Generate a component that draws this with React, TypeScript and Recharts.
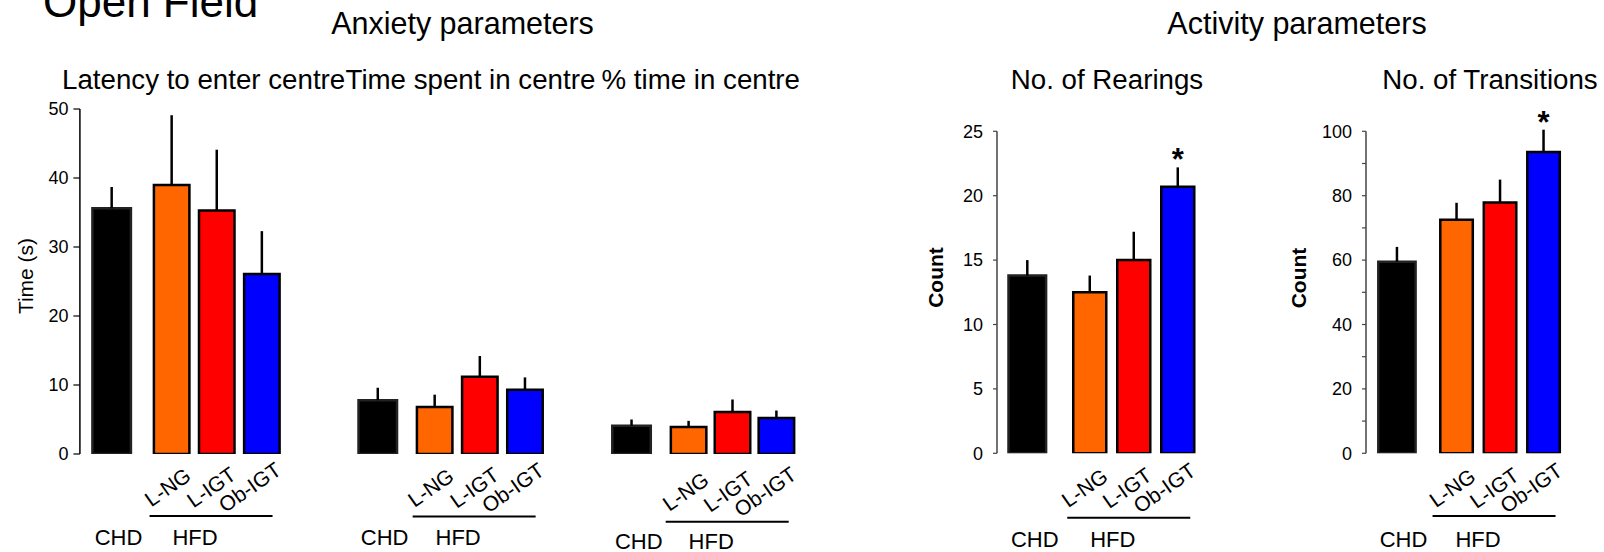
import React from 'react';
import { ComposedChart, Bar, XAxis, YAxis, ErrorBar, LabelList, Rectangle } from 'recharts';

// ---------- data ----------
const GROUPS = ['CHD', 'L-NG', 'L-IGT', 'Ob-IGT'];
const COLORS = ['#000000', '#FF6600', '#FF0000', '#0000FF'];

const latencyMean = [35.6, 39.0, 35.3, 26.1];
const latencyErr = [3.1, 10.1, 8.8, 6.2];
const timeCentreMean = [7.8, 6.8, 11.2, 9.3];
const timeCentreErr = [1.8, 1.8, 3.0, 1.8];
const pctCentreMean = [4.1, 3.9, 6.1, 5.2];
const pctCentreErr = [0.9, 0.9, 1.8, 1.1];
const rearingsMean = [13.8, 12.5, 15.0, 20.7];
const rearingsErr = [1.2, 1.3, 2.2, 1.5];
const rearingsSig = [false, false, false, true];
const transitionsMean = [59.5, 72.5, 77.9, 93.6];
const transitionsErr = [4.6, 5.3, 7.1, 6.9];
const transitionsSig = [false, false, false, true];

const timeTicks = [0, 10, 20, 30, 40, 50];
const rearingTicks = [0, 5, 10, 15, 20, 25];
const transitionTicks = [0, 10, 20, 30, 40, 50, 60, 70, 80, 90, 100];

// ---------- layout ----------
const FONT = '"Liberation Sans", Arial, Helvetica, sans-serif';
const H = 552;
const X_DOMAIN: [number, number] = [-0.7, 3.9];
const ROT = 35;
const ROT_FS = 21;

let measureCtx: CanvasRenderingContext2D | null = null;
function textWidth(s: string, size: number) {
  if (typeof document !== 'undefined') {
    if (!measureCtx) measureCtx = document.createElement('canvas').getContext('2d');
    if (measureCtx) {
      measureCtx.font = `${size}px "Liberation Sans", Arial, sans-serif`;
      return measureCtx.measureText(s).width;
    }
  }
  return s.length * size * 0.6;
}

type PanelProps = {
  means: number[];
  errs: number[];
  sig?: boolean[];
  chdCenter: number;
  unit: number;
  chdGap: number;
  barSize: number;
  chdExtra: number;
  yTop: number;
  yBottom: number;
  yDomain: [number, number];
  yTicks?: number[];
  yAxis?: 'time' | 'count' | 'countMinor' | null;
  yWidth?: number;
  yLabel?: string;
  yLabelX?: number;
  yLabelY?: number;
  lineDy: number;
  textDy: number;
  rotCy: number;
  rotDx: number;
};

function makeTick(p: PanelProps) {
  return (props: any) => {
    const { x, y, index } = props;
    if (index === 0) {
      return (
        <text x={x + 7} y={y + p.textDy} textAnchor="middle" fontSize={22} fill="#000">
          CHD
        </text>
      );
    }
    const label = GROUPS[index];
    const w = textWidth(label, ROT_FS);
    const h = ROT_FS * 0.716;
    const rad = (ROT * Math.PI) / 180;
    const ax = x + p.rotDx;
    const ay = y + p.rotCy - (w * Math.sin(rad) - h * Math.cos(rad)) / 2;
    return (
      <g>
        <text
          x={ax}
          y={ay}
          textAnchor="end"
          fontSize={ROT_FS}
          fill="#000"
          transform={`rotate(-${ROT} ${ax} ${ay})`}
        >
          {label}
        </text>
        {index === 2 ? (
          <g>
            <line x1={x - 67} x2={x + 56} y1={y + p.lineDy} y2={y + p.lineDy} stroke="#000" strokeWidth={2} />
            <text x={x - 21.5} y={y + p.textDy} textAnchor="middle" fontSize={22} fill="#000">
              HFD
            </text>
          </g>
        ) : null}
      </g>
    );
  };
}

function Panel(p: PanelProps) {
  const slots = [0, p.chdGap, p.chdGap + 1, p.chdGap + 2];
  const data = GROUPS.map((g, i) => ({
    x: slots[i],
    name: g,
    value: p.means[i],
    errRange: [0, p.errs[i]],
    star: p.sig && p.sig[i] ? '*' : '',
  }));
  const plotWidth = (X_DOMAIN[1] - X_DOMAIN[0]) * p.unit;
  const plotLeft = p.chdCenter + X_DOMAIN[0] * p.unit;
  const yw = p.yAxis ? p.yWidth || 80 : 0;
  const rightMargin = 34;
  const left = plotLeft - yw;
  const width = yw + plotWidth + rightMargin;
  const Tick = makeTick(p);

  const shape = (sp: any) => {
    const idx = sp.index ?? 0;
    const extra = idx === 0 ? p.chdExtra : 0;
    return (
      <Rectangle
        x={sp.x - extra}
        y={sp.y}
        width={sp.width + 2 * extra}
        height={sp.height}
        fill={COLORS[idx]}
        stroke={idx === 0 ? '#222' : '#000'}
        strokeWidth={2.5}
      />
    );
  };

  const starContent = (lp: any) => {
    const { x, y, width, height, value, index } = lp;
    if (!value) return null;
    const mean = p.means[index];
    const errPx = (p.errs[index] / mean) * height;
    return (
      <text x={x + width / 2} y={y - errPx + 3} textAnchor="middle" fontSize={31} fontWeight="bold" fill="#000">
        *
      </text>
    );
  };

  const yLabelContent = () =>
    p.yLabel ? (
      <text
        x={p.yLabelX}
        y={p.yLabelY}
        textAnchor="middle"
        fontSize={21}
        fontWeight={p.yAxis === 'time' ? 'normal' : 'bold'}
        fill="#000"
        transform={`rotate(-90 ${p.yLabelX} ${p.yLabelY})`}
      >
        {p.yLabel}
      </text>
    ) : null;

  return (
    <div style={{ position: 'absolute', left, top: 0, width, height: H }}>
      <ComposedChart
        width={width}
        height={H}
        data={data}
        margin={{ top: p.yTop, right: rightMargin, bottom: 0, left: 0 }}
      >
        <XAxis
          dataKey="x"
          type="number"
          domain={X_DOMAIN}
          allowDataOverflow
          ticks={slots}
          interval={0}
          tick={<Tick />}
          axisLine={false}
          tickLine={false}
          tickSize={0}
          tickMargin={0}
          height={H - p.yBottom}
        />
        {p.yAxis ? (
          <YAxis
            type="number"
            domain={p.yDomain}
            ticks={p.yTicks}
            interval={0}
            width={yw}
            allowDataOverflow
            axisLine={{ stroke: p.yAxis === 'time' ? '#000' : '#444', strokeWidth: 1.5 }}
            tickLine={{ stroke: p.yAxis === 'time' ? '#000' : '#444', strokeWidth: 1.2 }}
            tickSize={p.yAxis === 'time' ? 6.5 : 4}
            tickMargin={p.yAxis === 'time' ? 5 : 10}
            tick={{ fill: '#000', fontSize: 18 }}
            tickFormatter={(v: number) => (p.yAxis === 'countMinor' && v % 20 !== 0 ? '' : String(v))}
            label={yLabelContent}
          />
        ) : (
          <YAxis type="number" domain={p.yDomain} hide allowDataOverflow />
        )}
        <Bar dataKey="value" barSize={p.barSize} isAnimationActive={false} shape={shape}>
          <ErrorBar dataKey="errRange" width={0} stroke="#000" strokeWidth={2.5} direction="y" />
          {p.sig ? <LabelList dataKey="star" content={starContent} /> : null}
        </Bar>
      </ComposedChart>
    </div>
  );
}

export default function App() {
  return (
    <div
      style={{
        position: 'absolute',
        left: 0,
        top: 0,
        width: 1604,
        height: H,
        background: '#fff',
        overflow: 'hidden',
        fontFamily: FONT,
      }}
    >
      <svg width={1604} height={H} style={{ position: 'absolute', left: 0, top: 0 }}>
        <g fontFamily={FONT} fill="#000">
          <text x={43} y={17} fontSize={44}>Open Field</text>
          <text x={462.5} y={34} fontSize={30.5} textAnchor="middle">Anxiety parameters</text>
          <text x={1297} y={34} fontSize={30.5} textAnchor="middle">Activity parameters</text>
          <text x={62} y={89} fontSize={27.7}>Latency to enter centre</text>
          <text x={345.5} y={89} fontSize={27.7}>Time spent in centre</text>
          <text x={800} y={89} fontSize={27.7} textAnchor="end">% time in centre</text>
          <text x={1107} y={89} fontSize={27.7} textAnchor="middle">No. of Rearings</text>
          <text x={1490} y={89} fontSize={27.7} textAnchor="middle">No. of Transitions</text>
        </g>
      </svg>

      <Panel
        means={latencyMean}
        errs={latencyErr}
        chdCenter={111.5}
        unit={45.1}
        chdGap={1.33}
        barSize={35.5}
        chdExtra={1.5}
        yTop={109}
        yBottom={454}
        yDomain={[0, 50]}
        yTicks={timeTicks}
        yAxis="time"
        yWidth={79.9}
        yLabel="Time (s)"
        yLabelX={33.5}
        yLabelY={276}
        lineDy={62}
        textDy={91}
        rotCy={33}
        rotDx={21}
      />
      <Panel
        means={timeCentreMean}
        errs={timeCentreErr}
        chdCenter={377.2}
        unit={45.15}
        chdGap={1.26}
        barSize={35.5}
        chdExtra={1.5}
        yTop={109}
        yBottom={454}
        yDomain={[0, 50]}
        yAxis={null}
        lineDy={62.5}
        textDy={91}
        rotCy={33.5}
        rotDx={21}
      />
      <Panel
        means={pctCentreMean}
        errs={pctCentreErr}
        chdCenter={632.2}
        unit={43.9}
        chdGap={1.3}
        barSize={35.5}
        chdExtra={1.5}
        yTop={109}
        yBottom={454}
        yDomain={[0, 50]}
        yAxis={null}
        lineDy={67.7}
        textDy={95}
        rotCy={37.5}
        rotDx={21.5}
      />
      <Panel
        means={rearingsMean}
        errs={rearingsErr}
        sig={rearingsSig}
        chdCenter={1028}
        unit={44}
        chdGap={1.42}
        barSize={33}
        chdExtra={2.3}
        yTop={131.3}
        yBottom={453.3}
        yDomain={[0, 25]}
        yTicks={rearingTicks}
        yAxis="count"
        yWidth={90}
        yLabel="Count"
        yLabelX={36}
        yLabelY={277.5}
        lineDy={64.4}
        textDy={94}
        rotCy={34.5}
        rotDx={19}
      />
      <Panel
        means={transitionsMean}
        errs={transitionsErr}
        sig={transitionsSig}
        chdCenter={1396.8}
        unit={43.5}
        chdGap={1.37}
        barSize={32.5}
        chdExtra={2.4}
        yTop={131.3}
        yBottom={453.3}
        yDomain={[0, 100]}
        yTicks={transitionTicks}
        yAxis="countMinor"
        yWidth={90}
        yLabel="Count"
        yLabelX={30}
        yLabelY={278}
        lineDy={62.7}
        textDy={94}
        rotCy={34.5}
        rotDx={21}
      />
    </div>
  );
}
